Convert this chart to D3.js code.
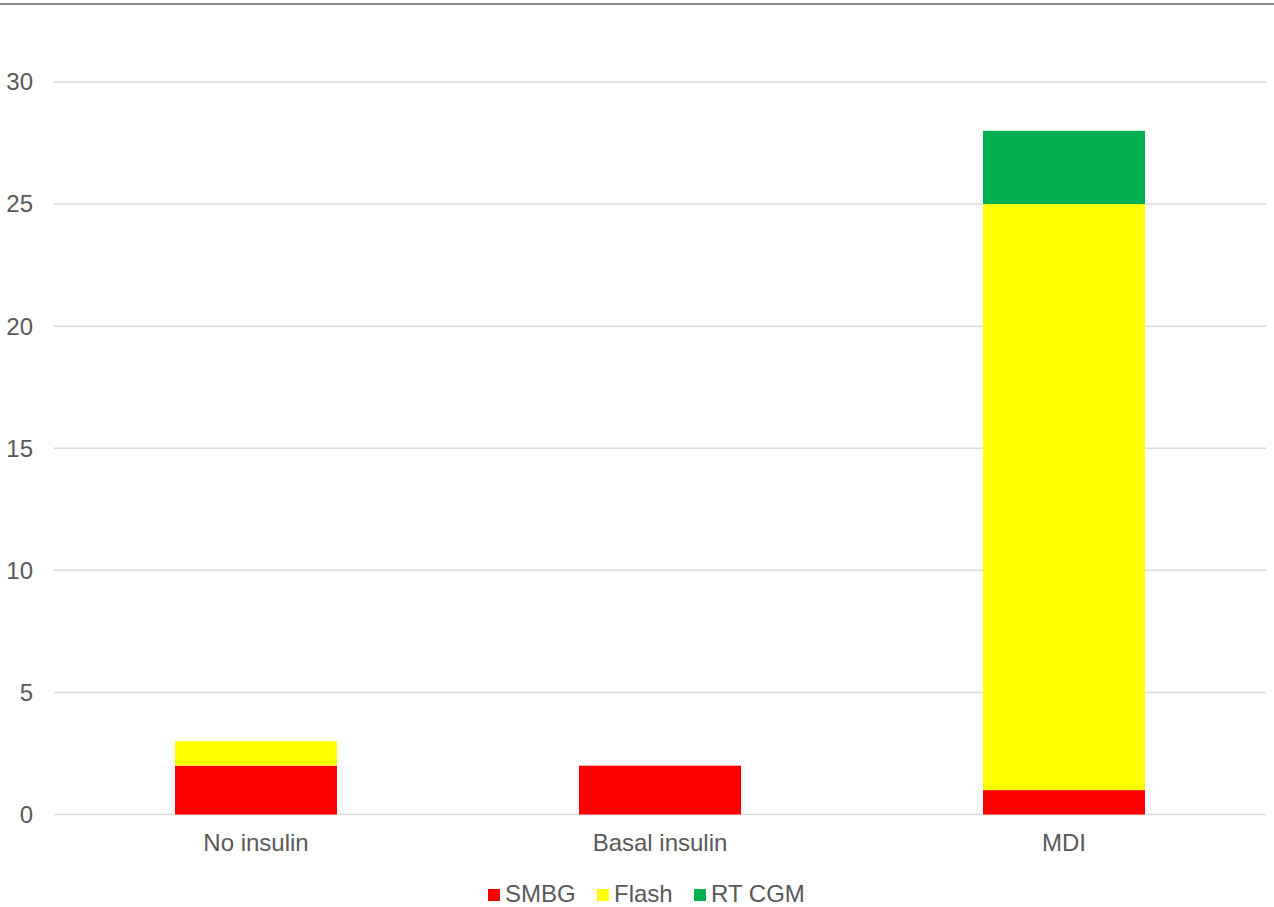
<!DOCTYPE html>
<html><head><meta charset="utf-8">
<script src="https://cdn.jsdelivr.net/npm/d3@7"></script>
<style>body{margin:0;background:#fff;}svg{display:block;font-family:"Liberation Sans",Arial,sans-serif;}</style>
</head><body><svg id="c" width="1274" height="907"></svg>
<script>
const categories = ["No insulin", "Basal insulin", "MDI"];
const seriesNames = ["SMBG", "Flash", "RT CGM"];
const smbg = [2, 2, 1];
const flash = [1, 0, 24];
const rtcgm = [0, 0, 3];
const yTicks = [0, 5, 10, 15, 20, 25, 30];
const colors = ["#ff0000", "#ffff00", "#00b050"];

const svg = d3.select("#c");
const W = 1274, H = 907;
const FS = 24;
const x = d3.scaleBand().domain(categories).range([54, 1266]).paddingInner(0.6).paddingOuter(0.3);
const y = d3.scaleLinear().domain([0, 30]).range([814.5, 82]);

svg.append("line").attr("x1",0).attr("x2",W).attr("y1",4).attr("y2",4).attr("stroke","#898989").attr("stroke-width",2);

const grid = svg.append("g");
yTicks.forEach(t=>{
  grid.append("line").attr("x1",54).attr("x2",1266).attr("y1",y(t)).attr("y2",y(t)).attr("stroke","#d9d9d9").attr("stroke-width",1.5);
  svg.append("text").attr("x",33).attr("y",y(t)).attr("dy","0.35em").attr("text-anchor","end").attr("fill","#595959").attr("font-size",FS).text(t);
});

const rows = categories.map((c,i)=>({cat:c, SMBG:smbg[i], Flash:flash[i], "RT CGM":rtcgm[i]}));
const stacked = d3.stack().keys(seriesNames)(rows);
const bw = 162;
stacked.forEach((s,si)=>{
  svg.append("g").selectAll("rect").data(s).join("rect")
    .attr("x", d=>x(d.data.cat)+x.bandwidth()/2-bw/2)
    .attr("width", bw)
    .attr("y", d=>y(d[1]))
    .attr("height", d=>y(d[0])-y(d[1]))
    .attr("fill", colors[si]);
});

categories.forEach(c=>{
  svg.append("text").attr("x",x(c)+x.bandwidth()/2).attr("y",851).attr("text-anchor","middle").attr("fill","#595959").attr("font-size",FS).text(c);
});

// legend
const legendX = [488, 597, 694];
seriesNames.forEach((n,i)=>{
  svg.append("rect").attr("x",legendX[i]).attr("y",889).attr("width",12).attr("height",12).attr("fill",colors[i]);
  svg.append("text").attr("x",legendX[i]+17).attr("y",893.5).attr("dy","0.35em").attr("fill","#595959").attr("font-size",FS).text(n);
});
</script></body></html>
